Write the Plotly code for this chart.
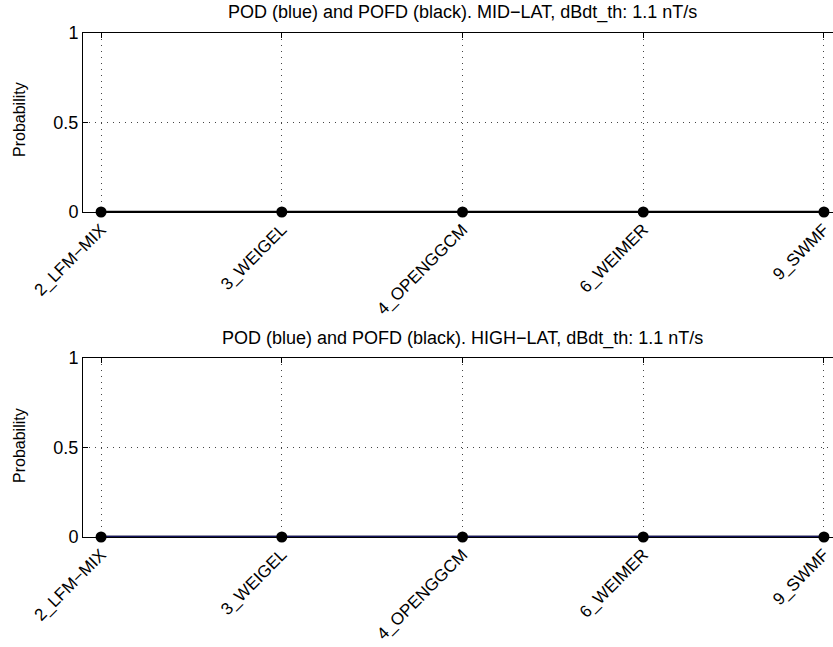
import plotly.graph_objects as go

models = ["2_LFM−MIX", "3_WEIGEL", "4_OPENGGCM", "6_WEIMER", "9_SWMF"]
pod_mid = [0, 0, 0, 0, 0]
pofd_mid = [0, 0, 0, 0, 0]
pod_high = [0, 0, 0, 0, 0]
pofd_high = [0, 0, 0, 0, 0]
titles = ["POD (blue) and POFD (black). MID−LAT, dBdt_th: 1.1 nT/s",
          "POD (blue) and POFD (black). HIGH−LAT, dBdt_th: 1.1 nT/s"]
ytitle = "Probability"

W, H = 833, 647
FONT = "Liberation Sans, Arial, Helvetica, sans-serif"
xpos = list(range(1, len(models) + 1))

fig = go.Figure()

# top panel: blue POD first, black POFD on top
fig.add_trace(go.Scatter(x=xpos, y=pod_mid, mode="lines", xaxis="x", yaxis="y",
                         line=dict(color="#0000ff", width=2), cliponaxis=False,
                         showlegend=False))
fig.add_trace(go.Scatter(x=xpos, y=pofd_mid, mode="lines+markers", xaxis="x", yaxis="y",
                         line=dict(color="black", width=2.5), marker=dict(color="black", size=11),
                         cliponaxis=False, showlegend=False))
# bottom panel: black POFD first, blue POD on top
fig.add_trace(go.Scatter(x=xpos, y=pofd_high, mode="lines", xaxis="x2", yaxis="y2",
                         line=dict(color="black", width=2.5), cliponaxis=False,
                         showlegend=False))
fig.add_trace(go.Scatter(x=xpos, y=pod_high, mode="lines+markers", xaxis="x2", yaxis="y2",
                         line=dict(color="#14145e", width=2.5), marker=dict(color="black", size=11),
                         cliponaxis=False, showlegend=False))

xl = 83 / W
top_dom = [1 - 212 / H, 1 - 33 / H]
bot_dom = [1 - 537 / H, 1 - 358 / H]
GRID = dict(showgrid=True, gridcolor="#444", griddash="1px,5px", gridwidth=1)

def xaxis_cfg(anchor):
    return dict(domain=[xl, 1], range=[0.9, 5.05], anchor=anchor, automargin=False,
                tickmode="array", tickvals=xpos, ticktext=models, tickangle=-45,
                ticklabeloverflow="allow",
                ticks="inside", ticklen=5, tickcolor="black",
                showline=True, linecolor="black", linewidth=1, mirror="ticks",
                zeroline=False, tickfont=dict(family=FONT, size=17, color="black"), **GRID)

def yaxis_cfg(anchor, dom):
    return dict(domain=dom, range=[0, 1], anchor=anchor, automargin=False,
                tickmode="array", tickvals=[0, 0.5, 1], ticktext=["0", "0.5", "1"],
                ticks="inside", ticklen=5, tickcolor="black",
                showline=True, linecolor="black", linewidth=1, mirror=False,
                zeroline=False, tickfont=dict(family=FONT, size=18, color="black"), **GRID)

ann = []
for t, yc in zip(titles, [12, 338]):
    ann.append(dict(text=t, x=462 / W, y=1 - yc / H, xref="paper", yref="paper",
                    showarrow=False, xanchor="center", yanchor="middle",
                    font=dict(family=FONT, size=18, color="black")))
for yc in [120, 446]:
    ann.append(dict(text=ytitle, x=19 / W, y=1 - yc / H, xref="paper", yref="paper",
                    showarrow=False, xanchor="center", yanchor="middle", textangle=-90,
                    font=dict(family=FONT, size=16, color="black")))

fig.update_layout(
    width=W, height=H, margin=dict(l=0, r=0, t=0, b=0),
    paper_bgcolor="white", plot_bgcolor="white",
    xaxis=xaxis_cfg("y"), yaxis=yaxis_cfg("x", top_dom),
    xaxis2=xaxis_cfg("y2"), yaxis2=yaxis_cfg("x2", bot_dom),
    annotations=ann,
)

fig.write_html("out.html")
